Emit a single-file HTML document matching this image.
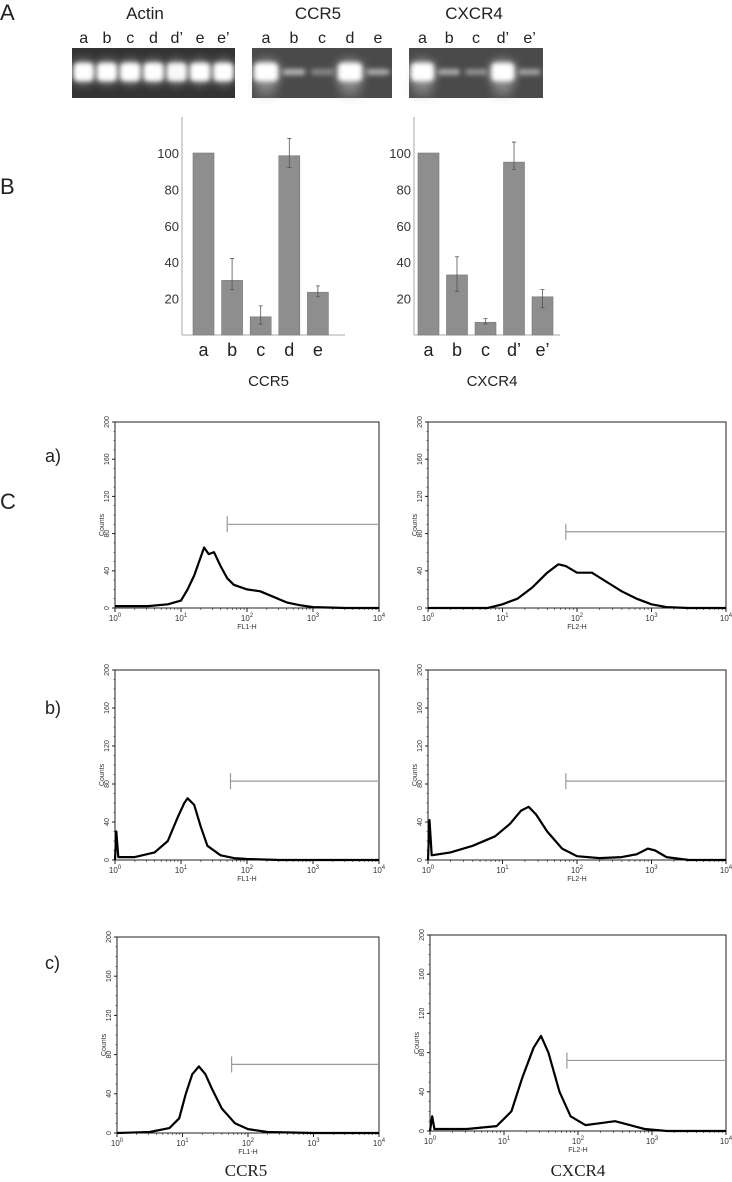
<!DOCTYPE html>
<html><head><meta charset="utf-8"><style>
html,body{margin:0;padding:0;background:#fff;}
svg{display:block;font-family:"Liberation Sans",sans-serif;}
</style></head><body>
<svg id="fig" width="732" height="1182" viewBox="0 0 732 1182">
<defs>
<filter id="blur" x="-50%" y="-100%" width="200%" height="300%"><feGaussianBlur stdDeviation="2.5"/></filter>
<filter id="blur2" x="-50%" y="-100%" width="200%" height="300%"><feGaussianBlur stdDeviation="5"/></filter>
</defs>
<g font-size="22" fill="#222">
<text x="0" y="20">A</text>
<text x="0" y="194">B</text>
<text x="0" y="509">C</text>
<text x="45" y="462" font-size="18">a)</text>
<text x="45" y="714" font-size="18">b)</text>
<text x="45" y="969" font-size="18">c)</text>
</g>
<g id="gels"></g>
<g id="bars"></g>
<g id="flow"></g>
<text x="246" y="1176" font-family="Liberation Serif,serif" font-size="17" text-anchor="middle" fill="#222">CCR5</text>
<text x="578" y="1176" font-family="Liberation Serif,serif" font-size="17" text-anchor="middle" fill="#222">CXCR4</text>
</svg>
<script>
// ---------- Gel data ----------
const actinLanes=["a","b","c","d","d’","e","e’"];
const actinIntensity=[1,1,1,1,0.95,1,1];
const ccr5Lanes=["a","b","c","d","e"];
const ccr5Intensity=[1,0.6,0.35,1,0.55];
const cxcr4Lanes=["a","b","c","d’","e’"];
const cxcr4Intensity=[1,0.55,0.4,1,0.5];
// ---------- Bar chart data ----------
const ccr5Cats=["a","b","c","d","e"];
const ccr5Vals=[100,30,10,98.5,23.5];
const ccr5Lo=[100,25,6,92,21];
const ccr5Hi=[100,42,16,108,27];
const cxcr4Cats=["a","b","c","d’","e’"];
const cxcr4Vals=[100,33,7,95,21];
const cxcr4Lo=[100,24,6,91,15];
const cxcr4Hi=[100,43,9,106,25];
const barTicks=[20,40,60,80,100];
// ---------- Flow histogram data (log10 fluorescence, counts) ----------
const aLx=[0,0.5,0.8,1.0,1.1,1.2,1.3,1.35,1.42,1.5,1.6,1.7,1.8,2.0,2.2,2.4,2.6,2.8,3.0,3.5,4];
const aLy=[2,2,4,8,20,35,55,65,58,60,45,32,25,20,18,12,6,3,1,0,0];
const aRx=[0,0.8,1.0,1.2,1.4,1.6,1.75,1.85,2.0,2.2,2.4,2.6,2.8,3.0,3.2,3.5,4];
const aRy=[0,0,4,10,22,38,47,45,38,38,28,18,10,4,1,0,0];
const bLx=[0,0.02,0.05,0.3,0.6,0.8,0.95,1.05,1.1,1.2,1.3,1.4,1.6,1.8,2.0,2.5,4];
const bLy=[0,30,3,3,8,20,45,60,65,58,35,15,5,2,1,0,0];
const bRx=[0,0.02,0.05,0.3,0.6,0.9,1.1,1.25,1.35,1.45,1.6,1.8,2.0,2.3,2.6,2.8,2.95,3.05,3.2,3.5,4];
const bRy=[0,42,5,8,15,25,38,52,56,48,30,12,4,2,3,6,12,10,3,0,0];
const cLx=[0,0.5,0.8,0.95,1.05,1.15,1.25,1.35,1.45,1.6,1.8,2.0,2.3,3,4];
const cLy=[0,1,5,15,40,60,68,60,45,25,10,4,1,0,0];
const cRx=[0,0.03,0.06,0.5,0.9,1.1,1.25,1.4,1.5,1.6,1.75,1.9,2.1,2.3,2.5,2.7,2.9,3.2,4];
const cRy=[0,15,2,2,5,20,55,85,97,80,40,15,6,8,10,6,2,0,0];
const gateX=[1.7,1.85,1.75,1.85,1.75,1.85];
const gateY=[90,82,83,83,70,72];
const countTicks=[0,40,80,120,160,200];
const decadeTicks=[0,1,2,3,4];

const NS="http://www.w3.org/2000/svg";
function mk(tag,parent,attrs){const e=document.createElementNS(NS,tag);for(const k in attrs)e.setAttribute(k,attrs[k]);parent.appendChild(e);return e;}

// ---------- Gels ----------
const gels=document.getElementById('gels');
function gel(name,title,lanes,inten,x0,x1,titleX,smear){
  const g=mk('g',gels,{});
  
  
  const t=mk('text',g,{x:titleX,y:19,'font-size':17,'text-anchor':'middle',fill:'#222'});t.textContent=title;
  
  
  mk('rect',g,{x:x0,y:48,width:x1-x0,height:50,fill:smear?'#4a4a4a':'#333'});
  const w=(x1-x0)/lanes.length;
  lanes.forEach((l,i)=>{
    const cx=x0+w*(i+0.5);
    const lt=mk('text',g,{x:cx,y:43,'font-size':16,'text-anchor':'middle',fill:'#222'});lt.textContent=l;
    
    
    const v=inten[i];
    if(v>0.9){
      mk('ellipse',g,{cx:cx,cy:72,rx:w*0.5,ry:12,fill:'#fff',opacity:0.5,filter:'url(#blur2)'});
      if(smear) mk('rect',g,{x:cx-w*0.35,y:70,width:w*0.7,height:26,fill:'#aaa',opacity:0.5,filter:'url(#blur2)'});
    }
    const b=mk('rect',g,{x:cx-w*0.42,y:72-(v>0.9?9:3),width:w*0.84,height:v>0.9?18:6,rx:4,fill:'#fff',opacity:v,filter:'url(#blur)'});
    
    
  });
}
gel('actin-gel','Actin',actinLanes,actinIntensity,72,235,145,false);
gel('ccr5-gel','CCR5',ccr5Lanes,ccr5Intensity,252,392,318,true);
gel('cxcr4-gel','CXCR4',cxcr4Lanes,cxcr4Intensity,409,543,474,true);

// ---------- Bar charts ----------
const bars=document.getElementById('bars');
const by0=335, byTop=117, bPer=(335-153)/100;
function yb(v){return by0-v*bPer;}
function barChart(name,title,cats,vals,lo,hi,axX,axEnd,firstX,step,bw){
  const g=mk('g',bars,{});
  
  
  mk('line',g,{x1:axX,y1:byTop,x2:axX,y2:by0,stroke:'#aaa','stroke-width':1});
  mk('line',g,{x1:axX,y1:by0,x2:axEnd,y2:by0,stroke:'#aaa','stroke-width':1});
  barTicks.forEach(t=>{
    const tx=mk('text',g,{x:axX-3,y:yb(t)+5,'font-size':13,'text-anchor':'end',fill:'#333'});tx.textContent=t;
    
    
  });
  cats.forEach((c,i)=>{
    const x=firstX+i*step;
    const r=mk('rect',g,{x:x,y:yb(vals[i]),width:bw,height:vals[i]*bPer,fill:'#8e8e8e',stroke:'#777','stroke-width':0.6});
    
    
    const cx=x+bw/2;
    if(hi[i]!==lo[i]){
      const e=mk('path',g,{d:`M${cx-2} ${yb(hi[i])}H${cx+2}M${cx} ${yb(hi[i])}V${yb(lo[i])}M${cx-2} ${yb(lo[i])}H${cx+2}`,stroke:'#555','stroke-width':0.8,fill:'none'});
      
      
    }
    const lt=mk('text',g,{x:cx,y:356,'font-size':18,'text-anchor':'middle',fill:'#222'});lt.textContent=c;
    
    
  });
  const tt=mk('text',g,{x:(axX+axEnd)/2+5,y:386,'font-size':15,'text-anchor':'middle',fill:'#222'});tt.textContent=title;
  
  
}
barChart('ccr5-bar-chart','CCR5',ccr5Cats,ccr5Vals,ccr5Lo,ccr5Hi,182,345,193,28.6,21);
barChart('cxcr4-bar-chart','CXCR4',cxcr4Cats,cxcr4Vals,cxcr4Lo,cxcr4Hi,414,560,418,28.5,21);

// ---------- Flow histograms ----------
const flow=document.getElementById('flow');
const plots=[
 {name:'hist-a-ccr5',xs:aLx,ys:aLy,x0:115,x1:379,top:422,bot:608,lab:'FL1-H'},
 {name:'hist-a-cxcr4',xs:aRx,ys:aRy,x0:428,x1:726,top:422,bot:608,lab:'FL2-H'},
 {name:'hist-b-ccr5',xs:bLx,ys:bLy,x0:115,x1:379,top:670,bot:860,lab:'FL1-H'},
 {name:'hist-b-cxcr4',xs:bRx,ys:bRy,x0:428,x1:726,top:670,bot:860,lab:'FL2-H'},
 {name:'hist-c-ccr5',xs:cLx,ys:cLy,x0:117,x1:379,top:937,bot:1133,lab:'FL1-H'},
 {name:'hist-c-cxcr4',xs:cRx,ys:cRy,x0:430,x1:726,top:935,bot:1131,lab:'FL2-H'}
];
plots.forEach((p,pi)=>{
  const g=mk('g',flow,{});
  
  
  const X=v=>p.x0+(v/4)*(p.x1-p.x0);
  const Y=c=>p.bot-(c/200)*(p.bot-p.top);
  mk('rect',g,{x:p.x0,y:p.top,width:p.x1-p.x0,height:p.bot-p.top,fill:'none',stroke:'#222','stroke-width':1});
  countTicks.forEach(t=>{
    const y=Y(t);
    mk('line',g,{x1:p.x0-3,y1:y,x2:p.x0,y2:y,stroke:'#222','stroke-width':1});
    const tx=mk('text',g,{x:0,y:0,'font-size':7,'text-anchor':'middle',fill:'#333',transform:`translate(${p.x0-6},${y}) rotate(-90)`});tx.textContent=t;
    
    
  });
  for(let t=0;t<=200;t+=10){mk('line',g,{x1:p.x0-1.5,y1:Y(t),x2:p.x0,y2:Y(t),stroke:'#222','stroke-width':0.6});}
  const yl=mk('text',g,{x:0,y:0,'font-size':7,'text-anchor':'middle',fill:'#333',transform:`translate(${p.x0-11},${(p.top+p.bot)/2+10}) rotate(-90)`});yl.textContent='Counts';
  
  
  decadeTicks.forEach(d=>{
    const x=X(d);
    mk('line',g,{x1:x,y1:p.bot,x2:x,y2:p.bot+4,stroke:'#222','stroke-width':1});
    if(d<4){for(let m=2;m<10;m++){const xm=X(d+Math.log10(m));mk('line',g,{x1:xm,y1:p.bot,x2:xm,y2:p.bot+2,stroke:'#222','stroke-width':0.6});}}
    const tx=mk('text',g,{x:x,y:p.bot+13,'font-size':8,'text-anchor':'middle',fill:'#333'});
    
    
    tx.appendChild(document.createTextNode('10'));
    const s=mk('tspan',tx,{dy:-4,'font-size':6});s.textContent=d;
  });
  const xl=mk('text',g,{x:(p.x0+p.x1)/2,y:p.bot+21,'font-size':7,'text-anchor':'middle',fill:'#333'});xl.textContent=p.lab;
  
  
  let d='';
  p.xs.forEach((v,i)=>{d+=(i?'L':'M')+X(v).toFixed(1)+' '+Y(p.ys[i]).toFixed(1);});
  const path=mk('path',g,{d:d,fill:'none',stroke:'#000','stroke-width':2.2,'stroke-linejoin':'round'});
  
  
  const gx=X(gateX[pi]), gy=Y(gateY[pi]);
  const gate=mk('path',g,{d:`M${gx} ${gy-8}V${gy+8}M${gx} ${gy}H${p.x1}`,stroke:'#999','stroke-width':1.2,fill:'none'});
  
  
});
</script>
</body></html>
